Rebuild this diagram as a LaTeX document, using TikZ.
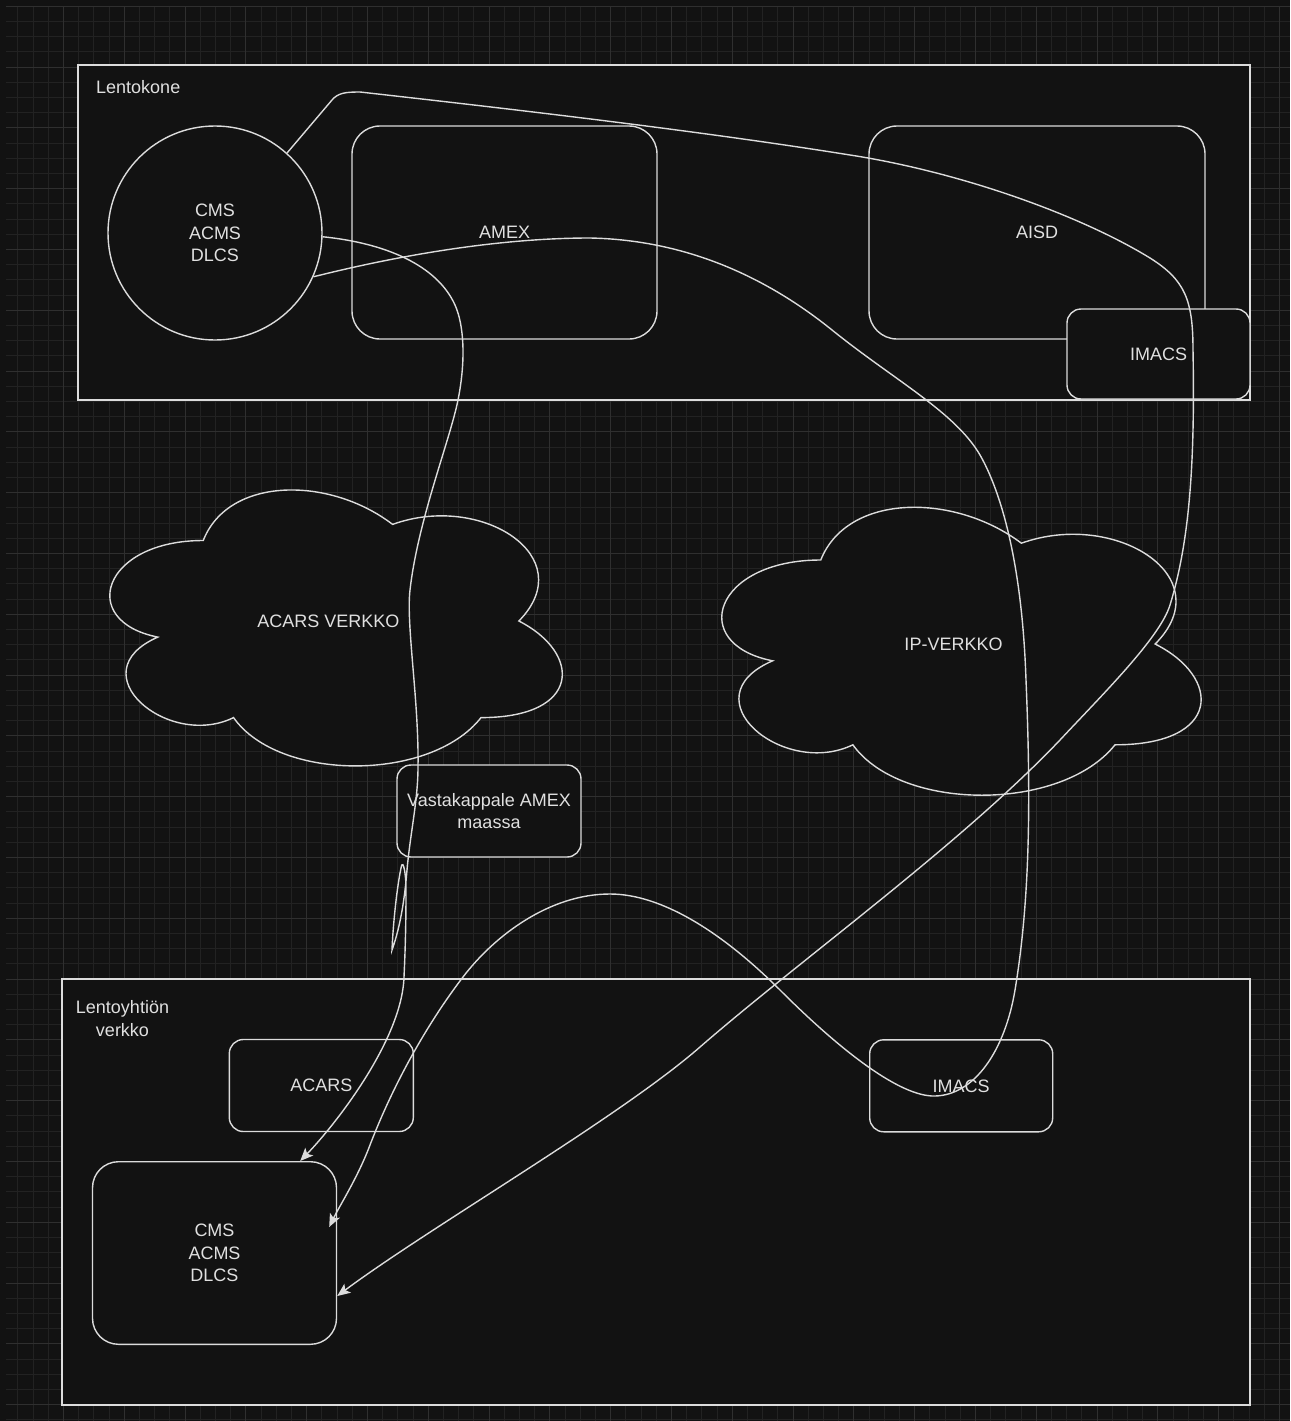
\documentclass[tikz,border=0pt]{standalone}
\usepackage{fontspec}
\setmainfont{Liberation Sans}
\usetikzlibrary{arrows.meta}
\definecolor{canvas}{HTML}{121212}
\definecolor{gridminor}{HTML}{222222}
\definecolor{gridmajor}{HTML}{2F2F2F}
\definecolor{edge}{HTML}{DCDCDC}
\definecolor{ink}{HTML}{E0E0E0}
\newcommand{\labelfont}{\fontsize{18}{22.5}\selectfont}

\begin{document}
\begin{tikzpicture}[x=1pt,y=-1pt,
        box/.style={draw=edge, fill=canvas, line width=1.4pt, inner sep=0pt, align=center, text=ink, font=\labelfont},
        smallbox/.style={box, rounded corners=14pt, minimum width=184pt, minimum height=92pt},
        bigbox/.style={box, rounded corners=28pt},
        frame/.style={draw=edge, fill=canvas, line width=1.6pt, inner sep=0pt},
        lbl/.style={text=ink, font=\labelfont, inner sep=0pt, align=center},
        conn/.style={draw=edge, line width=1.4pt, -{Stealth[length=13pt,width=11pt,inset=3pt]}},
        cloud/.style={draw=edge, fill=canvas, line width=1.4pt}]
        \fill[canvas] (0,0) rectangle (1290,1421);
        \useasboundingbox (0,0) rectangle (1290,1421);
        \begin{scope}
            \clip (6,6) rectangle (1290,1421);
            \foreach \i in {0,...,85} {
                \draw[gridminor, line width=1pt] ({2.7+15.2*\i},6) -- ({2.7+15.2*\i},1421);
            }
            \foreach \j in {0,...,93} {
                \draw[gridminor, line width=1pt] (6,{6.3+15.2*\j}) -- (1290,{6.3+15.2*\j});
            }
            \foreach \i in {0,...,21} {
                \draw[gridmajor, line width=1pt] ({2.7+60.8*\i},6) -- ({2.7+60.8*\i},1421);
            }
            \foreach \j in {0,...,23} {
                \draw[gridmajor, line width=1pt] (6,{6.3+60.8*\j}) -- (1290,{6.3+60.8*\j});
            }
        \end{scope}

        \node[frame, minimum width=1172pt, minimum height=335pt] (plane) at (664,232.5) {};
        \node[lbl, anchor=base west] (planeLbl) at (96,93) {Lentokone};
        \node[frame, minimum width=1188pt, minimum height=426pt] (airline) at (656,1192) {};
        \node[lbl, anchor=north] (airlineLbl) at (122.5,1000.5) {Lentoyhtiön\\verkko};

        \foreach \x/\y/\w/\h/\n/\t in {77/460/505/322/acarsNet/ACARS VERKKO, 687/476/535/336/ipNet/IP-VERKKO} {
            \begin{scope}[shift={(\x,\y)}, xscale=\w, yscale=\h]
                \draw[cloud] (0.25,0.25) .. controls (0.05,0.25) and (0,0.5) .. (0.16,0.55)
                    .. controls (0,0.66) and (0.18,0.9) .. (0.31,0.8)
                    .. controls (0.4,1) and (0.7,1) .. (0.8,0.8)
                    .. controls (1,0.8) and (1,0.6) .. (0.875,0.5)
                    .. controls (1,0.3) and (0.8,0.1) .. (0.625,0.2)
                    .. controls (0.5,0.05) and (0.3,0.05) .. (0.25,0.25) -- cycle;
            \end{scope}
            \node[lbl] (\n) at ({\x+0.5*\w-1},{\y+0.5*\h}) {\t};
        }

        \node[box, circle, minimum size=214pt] (cmsAir) at (215,233) {CMS\\ACMS\\DLCS};
        \node[bigbox, minimum width=305pt, minimum height=213pt] (amex) at (504.5,232.5) {AMEX};
        \node[bigbox, minimum width=336pt, minimum height=213pt] (aisd) at (1037,232.5) {AISD};
        \node[smallbox, minimum width=183pt, minimum height=90pt] (imacsAir) at (1158.5,354) {IMACS};
        \node[smallbox] (amexGround) at (489,811) {Vastakappale AMEX\\maassa};
        \node[smallbox] (acars) at (321.3,1085.5) {ACARS};
        \node[smallbox, minimum width=183pt] (imacsGround) at (961.2,1085.8) {IMACS};
        \node[bigbox, rounded corners=26pt, minimum width=244pt, minimum height=182.6pt] (cmsGround) at (214.5,1253) {CMS\\ACMS\\DLCS};

        \coordinate (tipAcars) at ([xshift=-37pt]cmsGround.north east);
        \coordinate (tipImacs) at ([xshift=-8pt,yshift=-66pt]cmsGround.north east);
        \coordinate (tipIp) at ([yshift=-135pt]cmsGround.north east);

        \draw[conn] (cmsAir.48.5) -- (332,100) .. controls (338,93) and (345,92) .. (360,92)
            .. controls (520,110) and (700,131) .. (850,155)
            .. controls (960,172) and (1080,215) .. (1150,258)
            .. controls (1185,280) and (1193,300) .. (1193,350)
            .. controls (1195,460) and (1190,540) .. (1170,605)
            .. controls (1160,638) and (1100,697) .. (1060,740)
            .. controls (960,845) and (800,960) .. (700,1047)
            .. controls (620,1117) and (430,1227) .. (tipIp);
        \draw[conn] (cmsAir.-2.3) .. controls (385,243) and (437,265) .. (455,305)
            .. controls (464,325) and (466,360) .. (458,400)
            .. controls (450,440) and (418,520) .. (410,590)
            .. controls (406,625) and (419,700) .. (418,767)
            .. controls (418,800) and (410,835) .. (407,870)
            .. controls (405,895) and (401,925) .. (392,950)
            .. controls (393,925) and (397,885) .. (401.7,865)
            .. controls (403,861) and (406,872) .. (406,890)
            .. controls (406,930) and (405,955) .. (404,977)
            .. controls (402,1040) and (335,1125) .. (tipAcars);
        \draw[conn] (cmsAir.-24) .. controls (400,255) and (500,238) .. (590,238)
            .. controls (690,240) and (770,280) .. (832,330)
            .. controls (894,380) and (955,412) .. (980,455)
            .. controls (1000,490) and (1022,560) .. (1026,680)
            .. controls (1031,800) and (1030,900) .. (1015,990)
            .. controls (1005,1050) and (975,1095) .. (935,1096)
            .. controls (900,1097) and (840,1050) .. (780,990)
            .. controls (720,930) and (660,894) .. (610,894)
            .. controls (550,894) and (495,935) .. (463,977)
            .. controls (430,1020) and (395,1080) .. (370,1145)
            .. controls (358,1177) and (340,1205) .. (tipImacs);
    \end{tikzpicture}
\end{document}
